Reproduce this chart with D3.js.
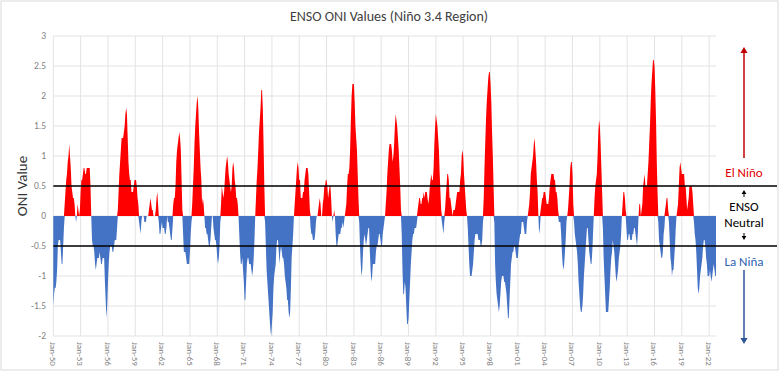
<!DOCTYPE html>
<html>
<head>
<meta charset="utf-8">
<script src="https://cdn.jsdelivr.net/npm/d3@7"></script>
<style>
  body { margin: 0; background: #fff; }
  text { font-family: Calibri, Carlito, Lato, sans-serif; }
</style>
</head>
<body>
<div id="chart"></div>
<script>
// monthly ONI (3-month running mean), Jan-1950 .. Oct-2022, one row per year
var startYear = 1950;
var oni = [
  -1.5,-1.3,-1.2,-1.2,-1.1,-0.9,-0.5,-0.4,-0.4,-0.4,-0.6,-0.8, // 1950
  -0.8,-0.5,-0.2,0.2,0.4,0.6,0.7,0.9,1.0,1.2,1.0,0.8,
  0.5,0.4,0.3,0.3,0.2,0.0,-0.1,0.0,0.2,0.1,0.0,0.1,
  0.4,0.6,0.6,0.7,0.8,0.8,0.7,0.7,0.8,0.8,0.8,0.8,
  0.8,0.5,0.0,-0.4,-0.5,-0.5,-0.6,-0.8,-0.9,-0.8,-0.7,-0.7,
  -0.7,-0.6,-0.7,-0.8,-0.8,-0.7,-0.7,-0.7,-1.1,-1.4,-1.7,-1.5, // 1955
  -1.1,-0.8,-0.6,-0.5,-0.5,-0.5,-0.6,-0.6,-0.5,-0.4,-0.4,-0.4,
  -0.2,0.1,0.4,0.7,0.9,1.1,1.3,1.3,1.3,1.4,1.5,1.7,
  1.8,1.7,1.3,0.9,0.7,0.6,0.6,0.4,0.4,0.4,0.5,0.6,
  0.6,0.6,0.5,0.3,0.2,-0.1,-0.2,-0.3,-0.1,0.0,0.0,0.0,
  -0.1,-0.1,-0.1,0.0,0.0,0.0,0.1,0.2,0.3,0.2,0.1,0.1, // 1960
  0.0,0.0,0.0,0.1,0.3,0.4,0.2,-0.1,-0.3,-0.3,-0.2,-0.1,
  -0.2,-0.2,-0.2,-0.3,-0.3,-0.2,0.0,-0.1,-0.1,-0.2,-0.3,-0.4,
  -0.4,-0.2,0.2,0.3,0.3,0.5,0.9,1.1,1.2,1.3,1.4,1.3,
  1.1,0.6,0.1,-0.3,-0.6,-0.6,-0.6,-0.7,-0.8,-0.8,-0.8,-0.8,
  -0.6,-0.3,-0.1,0.2,0.5,0.8,1.2,1.5,1.7,1.9,2.0,1.8, // 1965
  1.4,1.1,0.8,0.6,0.2,0.3,0.2,0.0,-0.2,-0.2,-0.3,-0.3,
  -0.4,-0.5,-0.5,-0.4,-0.2,0.0,0.0,-0.2,-0.3,-0.4,-0.4,-0.5,
  -0.7,-0.8,-0.7,-0.5,-0.1,0.2,0.5,0.4,0.3,0.4,0.6,0.8,
  0.9,1.0,0.9,0.7,0.6,0.5,0.4,0.5,0.8,0.9,0.8,0.6,
  0.5,0.3,0.3,0.2,0.0,-0.3,-0.6,-0.8,-0.8,-0.7,-0.9,-1.1, // 1970
  -1.4,-1.4,-1.1,-0.8,-0.7,-0.7,-0.8,-0.8,-0.8,-0.9,-1.0,-0.9,
  -0.7,-0.4,0.0,0.3,0.6,0.8,1.1,1.4,1.6,1.8,2.1,2.1,
  1.8,1.2,0.5,-0.1,-0.5,-0.9,-1.1,-1.3,-1.5,-1.7,-1.9,-2.0,
  -1.8,-1.6,-1.2,-1.0,-0.9,-0.8,-0.5,-0.4,-0.4,-0.6,-0.8,-0.6,
  -0.5,-0.6,-0.7,-0.7,-0.8,-1.0,-1.1,-1.2,-1.4,-1.4,-1.6,-1.7, // 1975
  -1.6,-1.2,-0.7,-0.5,-0.3,0.0,0.2,0.4,0.6,0.8,0.9,0.8,
  0.6,0.6,0.3,0.3,0.3,0.4,0.4,0.6,0.7,0.8,0.8,0.8,
  0.7,0.4,0.1,-0.2,-0.3,-0.3,-0.4,-0.4,-0.4,-0.3,-0.1,0.0,
  0.0,0.1,0.2,0.3,0.2,0.0,0.0,0.2,0.3,0.5,0.5,0.6,
  0.6,0.5,0.3,0.4,0.5,0.5,0.3,0.0,-0.1,0.0,0.1,0.0, // 1980
  -0.3,-0.5,-0.5,-0.4,-0.3,-0.3,-0.3,-0.2,-0.2,-0.1,-0.2,-0.1,
  0.0,0.1,0.2,0.5,0.7,0.7,0.8,1.1,1.6,2.0,2.2,2.2,
  2.2,1.9,1.5,1.3,1.1,0.7,0.3,-0.1,-0.5,-0.8,-1.0,-0.9,
  -0.6,-0.4,-0.3,-0.4,-0.5,-0.4,-0.3,-0.2,-0.2,-0.6,-0.9,-1.1,
  -1.0,-0.8,-0.8,-0.8,-0.8,-0.6,-0.5,-0.5,-0.4,-0.3,-0.3,-0.4, // 1985
  -0.5,-0.5,-0.3,-0.2,-0.1,0.0,0.2,0.4,0.7,0.9,1.1,1.2,
  1.2,1.2,1.1,0.9,1.0,1.2,1.5,1.7,1.6,1.5,1.3,1.1,
  0.8,0.5,0.1,-0.3,-0.9,-1.3,-1.3,-1.1,-1.2,-1.5,-1.8,-1.8,
  -1.7,-1.4,-1.1,-0.8,-0.6,-0.4,-0.3,-0.3,-0.2,-0.2,-0.2,-0.1,
  0.1,0.2,0.3,0.3,0.2,0.2,0.3,0.3,0.4,0.3,0.4,0.4, // 1990
  0.4,0.3,0.2,0.3,0.5,0.6,0.7,0.6,0.6,0.8,1.2,1.5,
  1.7,1.6,1.5,1.3,1.1,0.7,0.4,0.1,-0.1,-0.2,-0.3,-0.1,
  0.1,0.3,0.5,0.7,0.7,0.6,0.3,0.3,0.2,0.1,0.0,0.1,
  0.1,0.1,0.2,0.3,0.4,0.4,0.4,0.4,0.6,0.7,1.0,1.1,
  1.0,0.7,0.5,0.3,0.1,0.0,-0.2,-0.5,-0.8,-1.0,-1.0,-1.0, // 1995
  -0.9,-0.8,-0.6,-0.4,-0.3,-0.3,-0.3,-0.3,-0.4,-0.4,-0.4,-0.5,
  -0.5,-0.4,-0.1,0.3,0.8,1.2,1.6,1.9,2.1,2.3,2.4,2.4,
  2.2,1.9,1.4,1.0,0.5,-0.1,-0.8,-1.1,-1.3,-1.4,-1.5,-1.6,
  -1.5,-1.3,-1.1,-1.0,-1.0,-1.0,-1.1,-1.1,-1.2,-1.3,-1.5,-1.7,
  -1.7,-1.4,-1.1,-0.8,-0.7,-0.6,-0.6,-0.5,-0.5,-0.6,-0.7,-0.7, // 2000
  -0.7,-0.5,-0.4,-0.3,-0.3,-0.1,-0.1,-0.1,-0.2,-0.3,-0.3,-0.3,
  -0.1,0.0,0.1,0.2,0.4,0.7,0.8,0.9,1.0,1.2,1.3,1.1,
  0.9,0.6,0.4,0.0,-0.3,-0.2,0.1,0.2,0.3,0.3,0.4,0.4,
  0.4,0.3,0.2,0.2,0.2,0.3,0.5,0.6,0.7,0.7,0.7,0.7,
  0.6,0.6,0.4,0.4,0.3,0.1,-0.1,-0.1,-0.1,-0.3,-0.6,-0.8, // 2005
  -0.9,-0.8,-0.6,-0.4,-0.1,0.0,0.1,0.3,0.5,0.8,0.9,0.9,
  0.7,0.2,-0.1,-0.3,-0.4,-0.5,-0.6,-0.8,-1.1,-1.3,-1.5,-1.6,
  -1.6,-1.5,-1.3,-1.0,-0.8,-0.6,-0.4,-0.2,-0.2,-0.4,-0.6,-0.7,
  -0.8,-0.8,-0.6,-0.3,0.0,0.3,0.5,0.6,0.7,1.0,1.4,1.6,
  1.5,1.2,0.8,0.4,-0.2,-0.7,-1.0,-1.3,-1.6,-1.6,-1.6,-1.6, // 2010
  -1.4,-1.2,-0.9,-0.7,-0.6,-0.4,-0.5,-0.6,-0.8,-1.0,-1.1,-1.0,
  -0.9,-0.7,-0.6,-0.5,-0.3,0.0,0.2,0.4,0.4,0.3,0.1,-0.2,
  -0.4,-0.4,-0.3,-0.3,-0.4,-0.4,-0.4,-0.3,-0.3,-0.2,-0.2,-0.3,
  -0.4,-0.5,-0.3,0.0,0.2,0.2,0.0,0.1,0.2,0.5,0.6,0.7,
  0.5,0.5,0.5,0.7,0.9,1.2,1.5,1.9,2.2,2.4,2.6,2.6, // 2015
  2.5,2.1,1.6,0.9,0.4,-0.1,-0.4,-0.5,-0.6,-0.7,-0.7,-0.6,
  -0.3,-0.2,0.1,0.2,0.3,0.3,0.1,-0.1,-0.4,-0.7,-0.8,-1.0,
  -0.9,-0.9,-0.7,-0.5,-0.2,0.0,0.1,0.2,0.5,0.8,0.9,0.8,
  0.7,0.7,0.7,0.7,0.5,0.5,0.3,0.1,0.2,0.3,0.5,0.5,
  0.5,0.5,0.4,0.2,-0.1,-0.3,-0.4,-0.6,-0.9,-1.2,-1.3,-1.2, // 2020
  -1.0,-0.9,-0.8,-0.7,-0.5,-0.4,-0.4,-0.5,-0.7,-0.8,-1.0,-1.0,
  -1.0,-0.9,-1.0,-1.1,-1.0,-0.9,-0.8,-0.9,-1.0,-1.0
];

var yTicks = [3, 2.5, 2, 1.5, 1, 0.5, 0, -0.5, -1, -1.5, -2];
var xTickLabels = ["Jan-50","Jan-53","Jan-56","Jan-59","Jan-62","Jan-65","Jan-68",
  "Jan-71","Jan-74","Jan-77","Jan-80","Jan-83","Jan-86","Jan-89","Jan-92","Jan-95",
  "Jan-98","Jan-01","Jan-04","Jan-07","Jan-10","Jan-13","Jan-16","Jan-19","Jan-22"];
var thresholds = [0.5, -0.5];

var W = 780, H = 372;
var plot = {left: 53.3, right: 716, top: 36, bottom: 336};

var svg = d3.select("#chart").append("svg")
    .attr("width", W)
    .attr("height", H);

svg.append("rect")
    .attr("x", 1).attr("y", 1)
    .attr("width", W - 3).attr("height", H - 3)
    .attr("fill", "#fff")
    .attr("stroke", "#d9d9d9");

var x = d3.scaleLinear().domain([0, oni.length - 1]).range([plot.left, plot.right]);
var y = d3.scaleLinear().domain([-2, 3]).range([plot.bottom, plot.top]);

// grid
svg.append("g").selectAll("line")
  .data(yTicks)
  .enter().append("line")
  .attr("x1", plot.left).attr("x2", plot.right)
  .attr("y1", function(d) { return y(d); })
  .attr("y2", function(d) { return y(d); })
  .attr("stroke", "#e3e3e3");

svg.append("g").selectAll("line")
  .data(xTickLabels)
  .enter().append("line")
  .attr("x1", function(d, i) { return x(i * 36); })
  .attr("x2", function(d, i) { return x(i * 36); })
  .attr("y1", plot.top).attr("y2", plot.bottom)
  .attr("stroke", "#e3e3e3");

// areas: red above zero, blue below
var posArea = d3.area()
    .x(function(d, i) { return x(i); })
    .y0(y(0))
    .y1(function(d) { return y(Math.max(d, 0)); });
var negArea = d3.area()
    .x(function(d, i) { return x(i); })
    .y0(y(0))
    .y1(function(d) { return y(Math.min(d, 0)); });

svg.append("path").datum(oni).attr("d", posArea).attr("fill", "#ff0000");
svg.append("path").datum(oni).attr("d", negArea).attr("fill", "#4472c4");

// y axis labels
svg.append("g").selectAll("text")
  .data(yTicks)
  .enter().append("text")
  .attr("x", 46)
  .attr("y", function(d) { return y(d); })
  .attr("dy", "0.35em")
  .attr("text-anchor", "end")
  .attr("font-size", 9.5)
  .attr("fill", "#7f7f7f")
  .text(function(d) { return d; });

// x axis labels (rotated)
svg.append("g").selectAll("text")
  .data(xTickLabels)
  .enter().append("text")
  .attr("transform", function(d, i) { return "translate(" + x(i * 36) + ",342) rotate(90)"; })
  .attr("dy", "0.35em")
  .attr("font-size", 9)
  .attr("fill", "#7f7f7f")
  .text(function(d) { return d; });

// threshold lines
svg.append("g").selectAll("line")
  .data(thresholds)
  .enter().append("line")
  .attr("x1", plot.left).attr("x2", 777)
  .attr("y1", function(d) { return y(d); })
  .attr("y2", function(d) { return y(d); })
  .attr("stroke", "#000")
  .attr("stroke-width", 1.5);

// title
svg.append("text")
  .attr("x", 389).attr("y", 21)
  .attr("text-anchor", "middle")
  .attr("font-size", 14)
  .attr("fill", "#404040")
  .text("ENSO ONI Values (Niño 3.4 Region)");

svg.append("text")
  .attr("transform", "translate(27,186) rotate(-90)")
  .attr("text-anchor", "middle")
  .attr("font-size", 15)
  .attr("fill", "#333")
  .text("ONI Value");

// right side annotations
var ax = 744;
function arrow(x0, yFrom, yTo, color, head, width) {
  var dir = yTo < yFrom ? -1 : 1;
  svg.append("line")
    .attr("x1", x0).attr("x2", x0)
    .attr("y1", yFrom).attr("y2", yTo - dir * head)
    .attr("stroke", color).attr("stroke-width", width);
  svg.append("path")
    .attr("d", "M" + (x0 - head * 0.6) + "," + (yTo - dir * head) +
         "L" + x0 + "," + yTo + "L" + (x0 + head * 0.6) + "," + (yTo - dir * head) + "Z")
    .attr("fill", color);
}
arrow(ax, 158, 47, "#c00000", 6, 1.5);
arrow(ax, 270, 344, "#2f5597", 6, 1.5);
arrow(ax, 197, 190, "#000", 4, 1);
arrow(ax, 233, 240, "#000", 4, 1);

svg.append("text").attr("x", ax).attr("y", 177).attr("text-anchor", "middle")
  .attr("font-size", 13).attr("fill", "#e00000").text("El Niño");
svg.append("text").attr("x", ax).attr("y", 211).attr("text-anchor", "middle")
  .attr("font-size", 13).attr("fill", "#000").text("ENSO");
svg.append("text").attr("x", ax).attr("y", 227).attr("text-anchor", "middle")
  .attr("font-size", 13).attr("fill", "#000").text("Neutral");
svg.append("text").attr("x", ax).attr("y", 266).attr("text-anchor", "middle")
  .attr("font-size", 13).attr("fill", "#2f5fb0").text("La Niña");
</script>
</body>
</html>
